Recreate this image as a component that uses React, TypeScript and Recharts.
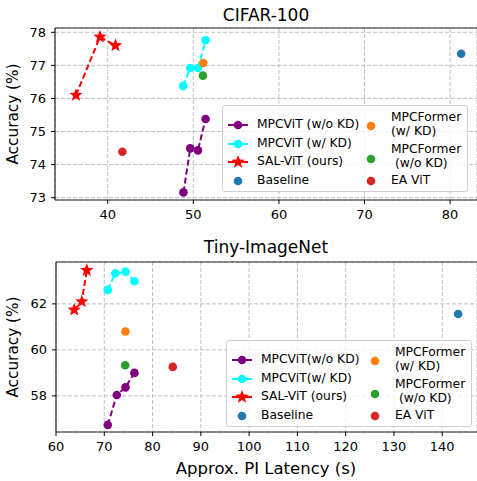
import React from "react";
import {
  ScatterChart,
  Scatter,
  XAxis,
  YAxis,
  CartesianGrid,
  ReferenceLine,
} from "recharts";

// ---- CIFAR-100 (latency s, accuracy %) ----
const cifarWoKdX = [48.85, 49.64, 50.54, 51.43];
const cifarWoKdY = [73.16, 74.49, 74.43, 75.38];
const cifarWKdX = [48.82, 49.64, 50.54, 51.43];
const cifarWKdY = [76.38, 76.92, 76.92, 77.76];
const cifarSalX = [36.29, 39.1, 40.9];
const cifarSalY = [76.1, 77.86, 77.6];
const cifarFormerWKd = [51.16, 77.07];
const cifarFormerWoKd = [51.12, 76.69];
const cifarBaseline = [81.29, 77.35];
const cifarEaVit = [41.71, 74.39];
const cifarXTicks = [40, 50, 60, 70, 80];
const cifarYTicks = [73, 74, 75, 76, 77, 78];

// ---- Tiny-ImageNet ----
const tinyWoKdX = [70.72, 72.59, 74.39, 76.25];
const tinyWoKdY = [56.74, 58.04, 58.37, 59.0];
const tinyWKdX = [70.72, 72.3, 74.39, 76.25];
const tinyWKdY = [62.61, 63.33, 63.4, 62.98];
const tinySalX = [63.77, 65.34, 66.38];
const tinySalY = [61.74, 62.1, 63.46];
const tinyFormerWKd = [74.39, 60.8];
const tinyFormerWoKd = [74.33, 59.33];
const tinyBaseline = [143.3, 61.56];
const tinyEaVit = [84.18, 59.26];
const tinyXTicks = [60, 70, 80, 90, 100, 110, 120, 130, 140];
const tinyYTicks = [58, 60, 62];

const FONT = "DejaVu Sans";
const C = {
  purple: "#800080",
  cyan: "#00ffff",
  red: "#ff0000",
  orange: "#ff7f0e",
  green: "#2ca02c",
  blue: "#1f77b4",
  ea: "#d62728",
};

const zip = (xs: number[], ys: number[]) => xs.map((x, i) => ({ x, y: ys[i] }));
const pt = (p: number[]) => [{ x: p[0], y: p[1] }];

function starPoints(cx: number, cy: number, ro: number, ri: number) {
  const pts: string[] = [];
  for (let i = 0; i < 10; i++) {
    const r = i % 2 === 0 ? ro : ri;
    const a = -Math.PI / 2 + (i * Math.PI) / 5;
    pts.push(`${cx + r * Math.cos(a)},${cy + r * Math.sin(a)}`);
  }
  return pts.join(" ");
}

const dot = (color: string) => (props: any) =>
  <circle cx={props.cx} cy={props.cy} r={4.3} fill={color} />;

const star = (props: any) => (
  <polygon points={starPoints(props.cx, props.cy, 7, 3)} fill={C.red} />
);

const tickStyle = { fill: "#000", fontSize: 13, fontFamily: FONT };
const axisLine = { stroke: "#262626", strokeWidth: 1.2 };

interface PanelProps {
  xDomain: [number, number];
  yDomain: [number, number];
  xTicks: number[];
  yTicks: number[];
  woKd: { x: number; y: number }[];
  wKd: { x: number; y: number }[];
  sal: { x: number; y: number }[];
  formerWKd: number[];
  formerWoKd: number[];
  baseline: number[];
  eaVit: number[];
  height: number;
  margin: { top: number; right: number; bottom: number; left: number };
  xHeight: number;
}

function Panel(p: PanelProps) {
  return (
    <ScatterChart width={477} height={p.height} margin={p.margin}>
      <CartesianGrid stroke="#b0b0b0" strokeDasharray="4 2" strokeWidth={0.8} />
      <XAxis
        type="number"
        dataKey="x"
        domain={p.xDomain}
        ticks={p.xTicks}
        allowDataOverflow
        height={p.xHeight}
        tick={tickStyle}
        tickSize={4}
        tickMargin={6}
        tickLine={{ stroke: "#000" }}
        axisLine={axisLine}
      />
      <YAxis
        type="number"
        dataKey="y"
        domain={p.yDomain}
        ticks={p.yTicks}
        allowDataOverflow
        width={40}
        tick={tickStyle}
        tickSize={4}
        tickMargin={5}
        tickLine={{ stroke: "#000" }}
        axisLine={axisLine}
      />
      <ReferenceLine y={p.yDomain[1]} stroke="#262626" strokeWidth={1.2} />
      <Scatter
        data={p.woKd}
        fill={C.purple}
        line={{ stroke: C.purple, strokeWidth: 2, strokeDasharray: "6 3" }}
        shape={dot(C.purple)}
        isAnimationActive={false}
      />
      <Scatter
        data={p.wKd}
        fill={C.cyan}
        line={{ stroke: C.cyan, strokeWidth: 2, strokeDasharray: "6 3" }}
        shape={dot(C.cyan)}
        isAnimationActive={false}
      />
      <Scatter
        data={p.sal}
        fill={C.red}
        line={{ stroke: C.red, strokeWidth: 2, strokeDasharray: "6 3" }}
        shape={star}
        isAnimationActive={false}
      />
      <Scatter data={pt(p.formerWKd)} fill={C.orange} shape={dot(C.orange)} isAnimationActive={false} />
      <Scatter data={pt(p.formerWoKd)} fill={C.green} shape={dot(C.green)} isAnimationActive={false} />
      <Scatter data={pt(p.baseline)} fill={C.blue} shape={dot(C.blue)} isAnimationActive={false} />
      <Scatter data={pt(p.eaVit)} fill={C.ea} shape={dot(C.ea)} isAnimationActive={false} />
    </ScatterChart>
  );
}

function LegendBox({ left, top, woLabel, wLabel }: { left: number; top: number; woLabel: string; wLabel: string }) {
  const rows = [19, 37.5, 56, 74.5];
  const txt: React.CSSProperties = {
    position: "absolute",
    fontSize: 12.3,
    lineHeight: "14px",
    whiteSpace: "pre",
    color: "#000",
  };
  const lineItem = (y: number, color: string, isStar: boolean) => (
    <svg style={{ position: "absolute", left: 4, top: y - 8, overflow: "visible" }} width={22} height={16}>
      <line x1={1} y1={8} x2={21} y2={8} stroke={color} strokeWidth={2} />
      {isStar ? (
        <polygon points={starPoints(11, 8, 7, 3)} fill={color} />
      ) : (
        <circle cx={11} cy={8} r={4.3} fill={color} />
      )}
    </svg>
  );
  const dotItem = (x: number, y: number, color: string) => (
    <svg style={{ position: "absolute", left: x - 6, top: y - 6 }} width={12} height={12}>
      <circle cx={6} cy={6} r={4.3} fill={color} />
    </svg>
  );
  return (
    <div
      style={{
        position: "absolute",
        left,
        top,
        width: 246,
        height: 87,
        border: "1px solid #d0d0d0",
        borderRadius: 3,
        background: "rgba(255,255,255,0.8)",
        boxSizing: "border-box",
      }}
    >
      {lineItem(rows[0], C.purple, false)}
      {lineItem(rows[1], C.cyan, false)}
      {lineItem(rows[2], C.red, true)}
      {dotItem(15, rows[3], C.blue)}
      <div style={{ ...txt, left: 34, top: rows[0] - 8 }}>{woLabel}</div>
      <div style={{ ...txt, left: 34, top: rows[1] - 8 }}>{wLabel}</div>
      <div style={{ ...txt, left: 34, top: rows[2] - 8 }}>SAL-ViT (ours)</div>
      <div style={{ ...txt, left: 34, top: rows[3] - 8 }}>Baseline</div>
      {dotItem(148, 20, C.orange)}
      {dotItem(148, 52.5, C.green)}
      {dotItem(148, 75, C.ea)}
      <div style={{ ...txt, left: 168, top: 4 }}>{"MPCFormer\n(w/ KD)"}</div>
      <div style={{ ...txt, left: 168, top: 36 }}>{"MPCFormer\n (w/o KD)"}</div>
      <div style={{ ...txt, left: 168, top: 67 }}>EA ViT</div>
    </div>
  );
}

const label = (text: string, x: number, y: number, size: number, rotate = false): React.ReactNode => (
  <div
    style={{
      position: "absolute",
      left: x,
      top: y,
      transform: `translate(-50%, -50%)${rotate ? " rotate(-90deg)" : ""}`,
      fontSize: size,
      whiteSpace: "nowrap",
      color: "#000",
    }}
  >
    {text}
  </div>
);

export default function App() {
  return (
    <div
      style={{
        position: "absolute",
        left: 0,
        top: 0,
        width: 477,
        height: 481,
        overflow: "hidden",
        background: "#fff",
        fontFamily: FONT,
      }}
    >
      <div style={{ position: "absolute", left: 0, top: 0 }}>
        <Panel
          xDomain={[33.84, 83.14]}
          yDomain={[72.93, 78.13]}
          xTicks={cifarXTicks}
          yTicks={cifarYTicks}
          woKd={zip(cifarWoKdX, cifarWoKdY)}
          wKd={zip(cifarWKdX, cifarWKdY)}
          sal={zip(cifarSalX, cifarSalY)}
          formerWKd={cifarFormerWKd}
          formerWoKd={cifarFormerWoKd}
          baseline={cifarBaseline}
          eaVit={cifarEaVit}
          height={235}
          margin={{ top: 28, right: 0, bottom: 10, left: 15 }}
          xHeight={25}
        />
      </div>
      <div style={{ position: "absolute", left: 0, top: 235 }}>
        <Panel
          xDomain={[60, 147.2]}
          yDomain={[56.43, 63.82]}
          xTicks={tinyXTicks}
          yTicks={tinyYTicks}
          woKd={zip(tinyWoKdX, tinyWoKdY)}
          wKd={zip(tinyWKdX, tinyWKdY)}
          sal={zip(tinySalX, tinySalY)}
          formerWKd={tinyFormerWKd}
          formerWoKd={tinyFormerWoKd}
          baseline={tinyBaseline}
          eaVit={tinyEaVit}
          height={246}
          margin={{ top: 27, right: 0, bottom: 19, left: 16 }}
          xHeight={30}
        />
      </div>
      <LegendBox left={222} top={105} woLabel="MPCViT (w/o KD)" wLabel="MPCViT (w/ KD)" />
      <LegendBox left={226} top={340} woLabel="MPCViT(w/o KD)" wLabel="MPCViT(w/ KD)" />
      {label("CIFAR-100", 266, 15, 17)}
      {label("Tiny-ImageNet", 266, 247, 17)}
      {label("Accuracy (%)", 13, 114, 15.3, true)}
      {label("Accuracy (%)", 13, 347, 15.3, true)}
      {label("Approx. PI Latency (s)", 266, 468, 16.5)}
    </div>
  );
}
